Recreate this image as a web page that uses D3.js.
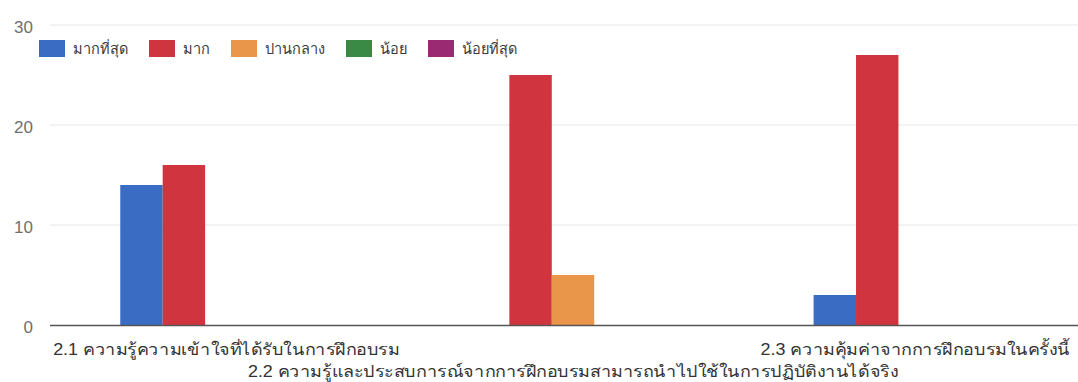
<!DOCTYPE html>
<html>
<head>
<meta charset="utf-8">
<script src="https://cdn.jsdelivr.net/npm/d3@7/dist/d3.min.js"></script>
<style>
  html, body { margin: 0; padding: 0; background: #ffffff; }
  svg { display: block; font-family: "Liberation Sans", Arial, "Noto Sans", sans-serif; }
</style>
</head>
<body>
<svg id="chart" width="1078" height="382"></svg>
<script>
// Survey responses per question, one array per rating level
const categories = [
  "2.1 ความรู้ความเข้าใจที่ได้รับในการฝึกอบรม",
  "2.2 ความรู้และประสบการณ์จากการฝึกอบรมสามารถนำไปใช้ในการปฏิบัติงานได้จริง",
  "2.3 ความคุ้มค่าจากการฝึกอบรมในครั้งนี้"
];
const seriesNames = ["มากที่สุด", "มาก", "ปานกลาง", "น้อย", "น้อยที่สุด"];
const seriesColors = ["#3b6cc4", "#d0353f", "#e9964b", "#3a8a46", "#9a2b72"];
const valMost   = [14, 0, 3];
const valMuch   = [16, 25, 27];
const valMedium = [0, 5, 0];
const valLittle = [0, 0, 0];
const valLeast  = [0, 0, 0];
const yTicks = [0, 10, 20, 30];

const seriesValues = [valMost, valMuch, valMedium, valLittle, valLeast];

const svg = d3.select("#chart");
const W = 1078;
const plot = { left: 50, right: 1093, top: 25, bottom: 325 };

const y = d3.scaleLinear().domain([0, 30]).range([plot.bottom, plot.top]);
const x0 = d3.scaleBand().domain(categories)
  .range([plot.left + 3, plot.right])
  .paddingInner(0.388).paddingOuter(0.194);
const x1 = d3.scaleBand().domain(seriesNames).range([0, x0.bandwidth()]);

// gridlines
svg.append("g").selectAll("line").data(yTicks.filter(t => t !== 0)).join("line")
  .attr("x1", plot.left).attr("x2", W)
  .attr("y1", d => y(d)).attr("y2", d => y(d))
  .attr("stroke", "#e6e6e6").attr("stroke-width", 1);

// y tick labels
const yAxis = d3.axisLeft(y).tickValues(yTicks).tickSize(0).tickPadding(0);
const yg = svg.append("g").attr("transform", `translate(33,2)`).call(yAxis);
yg.select(".domain").remove();
yg.selectAll("text").attr("font-size", 17).attr("fill", "#6f6f6f")
  .attr("font-family", "'Liberation Sans', Arial, sans-serif");

// bars
const groups = svg.append("g").selectAll("g").data(categories).join("g")
  .attr("transform", d => `translate(${x0(d)},0)`);
groups.selectAll("rect")
  .data((c, ci) => seriesNames.map((s, si) => ({ s, si, v: seriesValues[si][ci] })))
  .join("rect")
  .filter(d => d.v > 0)
  .attr("x", d => x1(d.s))
  .attr("width", x1.bandwidth())
  .attr("y", d => y(d.v))
  .attr("height", d => y(0) - y(d.v))
  .attr("fill", d => seriesColors[d.si]);

// baseline
svg.append("line")
  .attr("x1", plot.left).attr("x2", W)
  .attr("y1", y(0) + 0.5).attr("y2", y(0) + 0.5)
  .attr("stroke", "#555").attr("stroke-width", 1.5);

// category labels, alternating rows, slightly widened glyphs
const stretch = 1.12;
svg.append("g").selectAll("text").data(categories).join("text")
  .attr("text-anchor", "middle")
  .attr("font-size", 16)
  .attr("fill", "#333")
  .text(d => d)
  .each(function (d, i) {
    const len = this.getComputedTextLength() * stretch;
    let cx = x0(d) + x0.bandwidth() / 2;
    if (cx + len / 2 > W - 5) cx = W - 5 - len / 2;
    const yy = i % 2 === 0 ? 355 : 377;
    this.setAttribute("transform", `translate(${cx},${yy}) scale(${stretch},1)`);
  });

// legend
const legend = svg.append("g").attr("transform", "translate(39,40)");
let lx = 0;
seriesNames.forEach((name, i) => {
  const g = legend.append("g").attr("transform", `translate(${lx},0)`);
  g.append("rect").attr("width", 26).attr("height", 17).attr("fill", seriesColors[i]);
  const t = g.append("text").attr("x", 34).attr("y", 14)
    .attr("font-size", 14.5).attr("fill", "#3a3a3a").text(name);
  lx += 34 + t.node().getComputedTextLength() + 21;
});
</script>
</body>
</html>
